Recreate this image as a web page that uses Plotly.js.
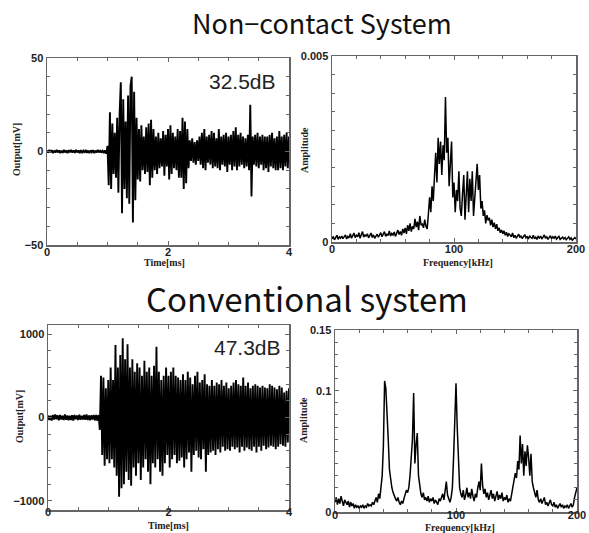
<!DOCTYPE html>
<html>
<head>
<meta charset="utf-8">
<script src="https://cdn.plot.ly/plotly-3.0.1.min.js"></script>
<style>html,body{margin:0;padding:0;background:#fff;}#chart{width:589px;height:533px;}</style>
</head>
<body>
<div id="chart"></div>
<script>
// ---- Data ----
const dtMs = 0.02;   // sample step of the time signals [ms]
const dfKHz = 1;     // frequency step of the spectra [kHz]

// Non-contact system: time signal, Output [mV]
const nonContactSignal = [
  0.5,-0.6,0.8,-0.4,0.7,-0.9,0.5,-0.6,0.9,-0.5,
  0.6,-0.8,0.4,-0.7,0.8,-0.5,0.6,-0.9,0.7,-0.4,
  0.8,-0.6,0.5,-0.7,0.9,-0.5,0.6,-0.8,0.7,-0.5,
  0.4,-0.6,0.8,-0.7,0.5,-0.9,0.6,-0.4,0.7,-0.8,
  0.5,-0.6,0.9,-0.5,0.7,-0.6,0.4,-0.8,0.6,-1.2,
  3,-18,21,-20,15,-12,10,-14,18,-22,
  20,37,-33,28,-20,16,-25,30,-28,35,
  40,-38,32,-26,18,-15,12,-16,14,-10,
  8,-12,13,-11,15,-18,17,-14,12,-10,
  8,-12,10,-9,7,-8,11,-13,9,-8,
  12,-15,14,-12,10,-9,8,-10,12,-14,
  11,-14,18,-20,16,-17,12,-9,6,-5,
  7,-6,5,-7,6,-5,8,-7,10,-9,
  12,-10,8,-6,9,-7,11,-9,10,-8,
  7,-9,12,-10,8,-7,9,-8,10,-11,
  8,-7,9,-10,11,-8,13,-10,9,-8,
  10,-7,8,-9,7,-8,9,-10,25,-24,
  8,-7,9,-8,10,-9,8,-7,9,-10,
  8,-9,8,-11,9,-8,10,-9,7,-10,
  8,-10,11,-9,8,-10,9,-8,10,-9,
  8
];

// Non-contact system: spectrum, Amplitude (0..200 kHz)
const nonContactSpectrum = [
  .00008,.00015,.00006,.00012,.00018,.00007,.00014,.0001,.00016,.00009,
  .00013,.00019,.00008,.00015,.00011,.00022,.0001,.00017,.00024,.00012,
  .00018,.00014,.00025,.0001,.00019,.00028,.00013,.0002,.00015,.00022,
  .00011,.00017,.00024,.00012,.00019,.0001,.00016,.00021,.00013,.00018,
  .00025,.00014,.0002,.00028,.00015,.00022,.00017,.0003,.00016,.00023,
  .00019,.00027,.00015,.00024,.00032,.0002,.00028,.00018,.00035,.00024,
  .00038,.00022,.00045,.0003,.0005,.00028,.00042,.00035,.00062,.0004,
  .00055,.00032,.0007,.00045,.00048,.00038,.0006,.00042,.00035,.00075,
  .0012,.0008,.0015,.0011,.0019,.0024,.0016,.0028,.0021,.0027,
  .0018,.0026,.0022,.0039,.0024,.0028,.0015,.0022,.0027,.0012,
  .0016,.0008,.0014,.0011,.0019,.0009,.0007,.0013,.0018,.0006,
  .0015,.0019,.0008,.0017,.0011,.0019,.0007,.0012,.0016,.0021,
  .0014,.0018,.0009,.0011,.0007,.00085,.0005,.00072,.00058,.00065,
  .00045,.0006,.0004,.00052,.00035,.00048,.0003,.00038,.00025,.00032,
  .00022,.0003,.00018,.00026,.00015,.00022,.00019,.00014,.00024,.00012,
  .00018,.0001,.00016,.00021,.00012,.00017,.00009,.00015,.0002,.00011,
  .00014,.00008,.00017,.00012,.0001,.00018,.00009,.00013,.00007,.00015,
  .00011,.00016,.00008,.00013,.00019,.0001,.00014,.00007,.00012,.00017,
  .00009,.00014,.0001,.00016,.00008,.00012,.00015,.00007,.00011,.00013,
  .00008,.00012,.00006,.0001,.00014,.00007,.00011,.00005,.00009,.00012,
  .00008
];

// Conventional system: time signal, Output [mV]
const conventionalSignal = [
  25,-30,20,-35,30,-25,35,-20,28,-32,
  30,-25,22,-30,35,-28,25,-32,20,-30,
  28,-35,30,-22,25,-30,32,-28,20,-25,
  30,-28,35,-30,25,-32,28,-25,30,-35,
  32,-40,30,-150,500,-450,480,-580,350,-500,
  450,-550,600,-500,450,-600,870,-700,600,-950,
  750,-850,950,-800,700,-650,880,-750,600,-820,
  700,-600,550,-700,650,-550,600,-750,500,-600,
  680,-500,550,-650,600,-800,500,-550,620,-600,
  850,-500,550,-650,450,-700,500,-550,600,-450,
  500,-600,550,-500,600,-450,500,-550,480,-520,
  450,-480,520,-600,450,-500,550,-420,480,-650,
  400,-450,500,-400,550,-480,420,-500,450,-380,
  520,-650,400,-450,380,-420,450,-400,380,-450,
  420,-380,400,-420,450,-350,380,-400,420,-380,
  350,-400,380,-350,420,-380,450,-360,400,-420,
  380,-350,480,-400,380,-360,420,-380,350,-400,
  380,-350,400,-420,380,-350,360,-400,380,-340,
  360,-380,350,-360,400,-340,380,-350,360,-380,
  340,-350,380,-320,360,-340,300,-350,320,-300,
  350
];

// Conventional system: spectrum, Amplitude (0..200 kHz)
const conventionalSpectrum = [
  .008,.012,.006,.011,.007,.013,.009,.005,.01,.008,
  .006,.009,.004,.008,.005,.007,.003,.006,.004,.005,
  .003,.005,.004,.006,.003,.005,.004,.007,.005,.006,
  .005,.008,.006,.009,.012,.008,.015,.011,.02,.03,
  .055,.108,.102,.085,.06,.035,.025,.02,.016,.013,
  .011,.009,.012,.008,.006,.009,.007,.011,.014,.018,
  .016,.02,.03,.045,.06,.098,.04,.055,.065,.03,
  .02,.015,.012,.016,.01,.012,.009,.013,.008,.011,
  .009,.012,.007,.01,.008,.006,.011,.009,.012,.015,
  .01,.018,.025,.014,.01,.008,.012,.02,.045,.08,
  .106,.07,.035,.02,.015,.012,.018,.01,.014,.02,
  .012,.016,.011,.019,.013,.009,.015,.012,.02,.025,
  .018,.04,.022,.015,.019,.012,.016,.01,.014,.018,
  .011,.015,.009,.013,.017,.01,.014,.011,.016,.009,
  .012,.01,.014,.008,.011,.009,.015,.02,.025,.032,
  .028,.042,.035,.063,.04,.056,.03,.05,.038,.055,
  .045,.03,.048,.025,.02,.015,.012,.018,.01,.008,
  .011,.007,.009,.012,.006,.008,.005,.007,.01,.006,
  .005,.008,.004,.006,.003,.005,.007,.004,.006,.003,
  .005,.004,.006,.003,.005,.007,.004,.006,.012,.016,
  .02
];

const sectionTitles = ["Non\u2212contact System", "Conventional system"];
const snrLabels = ["32.5dB", "47.3dB"];
const axisTitles = {time: "Time[ms]", freq: "Frequency[kHz]", out: "Output[mV]", amp: "Amplitude"};
const timeTicks = [0, 2, 4];
const freqTicks = [0, 100, 200];
const outTicksTop = [-50, 0, 50];
const outTicksBottom = [-1000, 0, 1000];
const ampTicksTop = [0, 0.005];
const ampTicksBottom = [0, 0.1, 0.15];

// ---- Build ----
const W = 589, H = 533;
const px = (a, b) => [a / W, b / W];
const py = (top, bottom) => [1 - bottom / H, 1 - top / H];

const timeAxis = arr => arr.map((_, i) => i * dtMs);
const freqAxis = arr => arr.map((_, i) => i * dfKHz);

const sigLine = {color: '#000', width: 1.9};
const specLine = {color: '#000', width: 1.5};
const traces = [
  {x: timeAxis(nonContactSignal), y: nonContactSignal, xaxis: 'x', yaxis: 'y', type: 'scatter', mode: 'lines', line: sigLine, name: 'Non-contact signal'},
  {x: freqAxis(nonContactSpectrum), y: nonContactSpectrum, xaxis: 'x2', yaxis: 'y2', type: 'scatter', mode: 'lines', line: specLine, name: 'Non-contact spectrum'},
  {x: timeAxis(conventionalSignal), y: conventionalSignal, xaxis: 'x3', yaxis: 'y3', type: 'scatter', mode: 'lines', line: sigLine, name: 'Conventional signal'},
  {x: freqAxis(conventionalSpectrum), y: conventionalSpectrum, xaxis: 'x4', yaxis: 'y4', type: 'scatter', mode: 'lines', line: specLine, name: 'Conventional spectrum'}
];

const tickFont = {family: 'Liberation Sans, Arial, sans-serif', size: 11, color: '#222', weight: 'bold'};
const titleFont = {family: 'Liberation Serif, Times New Roman, serif', size: 10, color: '#222', weight: 'bold'};
const frame = '#666';

function ax(domain, range, tickvals, minorDtick, anchor, standoff) {
  return {
    domain, range, anchor, tickmode: 'array', tickvals, ticks: 'inside', ticklen: 4, tickcolor: frame,
    minor: {dtick: minorDtick, ticks: 'inside', ticklen: 3, tickcolor: frame, showgrid: false},
    showline: true, linecolor: frame, linewidth: 1.5, mirror: 'ticks', showgrid: false, zeroline: false,
    tickfont: tickFont, ticklabelstandoff: standoff || 0, automargin: false, fixedrange: true
  };
}

function pAnn(text, x, y, font, angle) {
  return {text, xref: 'paper', yref: 'paper', x: x / W, y: 1 - y / H, xanchor: 'center', yanchor: 'middle',
          showarrow: false, font, textangle: angle || 0};
}

const layout = {
  width: W, height: H,
  margin: {l: 0, r: 0, t: 0, b: 0},
  paper_bgcolor: '#fff', plot_bgcolor: '#fff',
  showlegend: false,
  xaxis: ax(px(47, 289), [0, 4], timeTicks, 0.5, 'y', -4),
  yaxis: ax(py(58, 245), [-50, 50], outTicksTop, 10, 'x'),
  xaxis2: ax(px(332, 576), [0, 200], freqTicks, 20, 'y2', -4),
  yaxis2: ax(py(56, 242), [0, 0.005], ampTicksTop, 0.0005, 'x2'),
  xaxis3: ax(px(48, 289), [0, 4], timeTicks, 0.5, 'y3', -9),
  yaxis3: ax(py(325, 510), [-1110, 1110], outTicksBottom, 200, 'x3'),
  xaxis4: ax(px(335, 577), [0, 200], freqTicks, 20, 'y4', -8),
  yaxis4: ax(py(330, 512), [0, 0.15], ampTicksBottom, 0.01, 'x4'),
  annotations: [
    pAnn(sectionTitles[0], 322, 22, {family: 'Noto Sans CJK JP, Noto Sans, sans-serif', size: 27, color: '#111'}),
    pAnn(sectionTitles[1], 307, 298, {family: 'Noto Sans CJK JP, Noto Sans, sans-serif', size: 33, color: '#111'}),
    {text: snrLabels[0], xref: 'x domain', yref: 'y domain', x: 0.955, y: 0.872, xanchor: 'right', yanchor: 'middle', showarrow: false,
     font: {family: 'Liberation Sans, Arial, sans-serif', size: 21, color: '#222'}},
    {text: snrLabels[1], xref: 'x3 domain', yref: 'y3 domain', x: 0.975, y: 0.876, xanchor: 'right', yanchor: 'middle', showarrow: false,
     font: {family: 'Liberation Sans, Arial, sans-serif', size: 21, color: '#222'}},
    pAnn(axisTitles.time, 164, 263, titleFont),
    pAnn(axisTitles.out, 17, 150, titleFont, -90),
    pAnn(axisTitles.freq, 458, 262, titleFont),
    pAnn(axisTitles.amp, 305, 150, titleFont, -90),
    pAnn(axisTitles.time, 168, 525, titleFont),
    pAnn(axisTitles.out, 19, 417, titleFont, -90),
    pAnn(axisTitles.freq, 460, 527, titleFont),
    pAnn(axisTitles.amp, 303, 420, titleFont, -90)
  ]
};

Plotly.newPlot('chart', traces, layout, {staticPlot: true, displayModeBar: false});
</script>
</body>
</html>
